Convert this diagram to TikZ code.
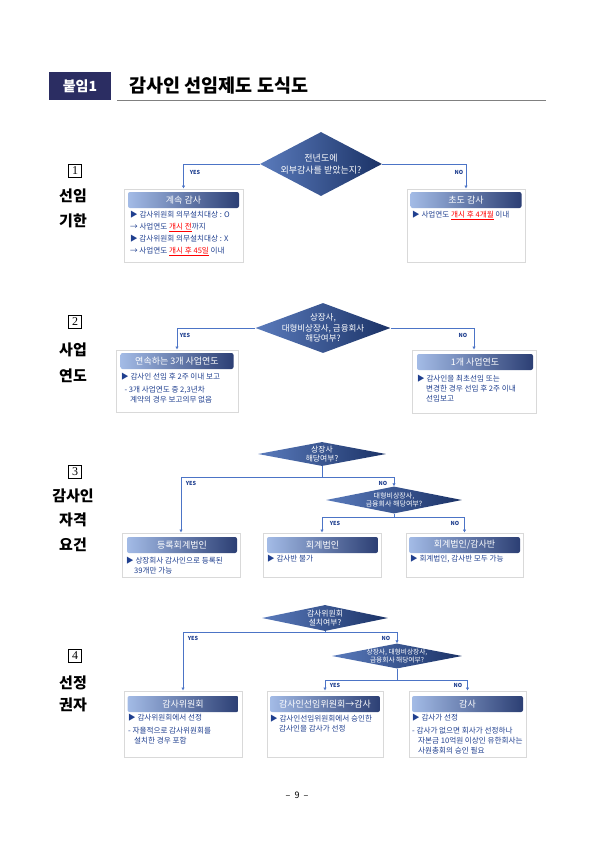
\documentclass[tikz,border=0pt]{standalone}
\usepackage{fontspec}
\setmainfont{Noto Sans CJK KR}
\newfontfamily\numfont{Liberation Serif}
\usepackage{tikz}
\usetikzlibrary{shapes.geometric}
\usetikzlibrary{arrows.meta}
\definecolor{navy}{HTML}{2B2D62}
\definecolor{flowline}{HTML}{4C74C6}
\definecolor{itemblue}{HTML}{1F3F8F}
\definecolor{hdlight}{HTML}{A3BBE6}
\definecolor{hddark}{HTML}{2C3F74}
\definecolor{dmdlight}{HTML}{5A7BBC}
\definecolor{dmddark}{HTML}{1B3266}
\newcommand{\rd}[1]{{\color{red}\underline{#1}}}

\begin{document}
\begin{tikzpicture}[x=1pt,y=-1pt,
	dmd/.style={diamond,inner sep=0pt,left color=dmdlight,right color=dmddark},
	dtxt/.style={inner sep=0pt,text=white,align=center},
	hdr/.style={rectangle,rounded corners=2pt,left color=hdlight,right color=hddark,text=white,minimum height=16pt,inner sep=0pt,font=\fontsize{9}{10}\selectfont},
	card/.style={draw=black!15,line width=1pt,fill=white},
	item/.style={anchor=north west,inner sep=0pt,text=itemblue,align=left},
	yn/.style={inner sep=0pt,text=itemblue,font=\fontsize{5.5}{6}\selectfont\bfseries},
	flow/.style={draw=flowline,line width=1pt,-{Latex[length=3pt,width=3.5pt]}},
	numbox/.style={draw,line width=0.5pt,minimum size=13pt,inner sep=0pt,font=\numfont\fontsize{12}{12}\selectfont},
	sect/.style={font=\fontsize{15}{15}\selectfont\bfseries}]
	\useasboundingbox (0,0) rectangle (595,841);
	\node[fill=navy,text=white,minimum width=62pt,minimum height=28pt,font=\fontsize{14}{14}\selectfont\bfseries] (tag) at (80,86) {붙임1};
	\node[anchor=west,font=\fontsize{18.5}{18.5}\selectfont\bfseries] (title) at (126,86) {감사인 선임제도 도식도};
	\draw[black!50,line width=1pt] (117,100) -- (546,100);

	\node[numbox] (n1) at (75,171) {1};
	\node[sect] (s1a) at (73,196) {선임};
	\node[sect] (s1b) at (73,221) {기한};
	\node[dmd,minimum width=122pt,minimum height=64pt] (d1) at (321,164) {};
	\node[dtxt,font=\fontsize{9}{11.5}\selectfont] (d1t) at (d1) {전년도에\\외부감사를 받았는지?};
	\node[card,minimum width=119pt,minimum height=73pt] (b1a) at (183.5,225.5) {};
	\node[hdr,minimum width=111pt] (h1a) at (183.5,200) {계속 감사};
	\node[item,font=\fontsize{7.6}{12}\selectfont] (t1a) at (130,211) {▶ 감사위원회 의무설치대상 : O\\ → 사업연도 \rd{개시 전}까지\\▶ 감사위원회 의무설치대상 : X\\ → 사업연도 \rd{개시 후 45일} 이내};
	\node[card,minimum width=118pt,minimum height=73pt] (b1b) at (466,225.5) {};
	\node[hdr,minimum width=111pt] (h1b) at (466,200) {초도 감사};
	\node[item,font=\fontsize{7.6}{12}\selectfont] (t1b) at (412,211) {▶ 사업연도 \rd{개시 후 4개월} 이내};
	\draw[flow] (d1.west) -| (b1a.north);
	\draw[flow] (d1.east) -| (b1b.north);
	\node[yn] (y1) at (195,172) {YES};
	\node[yn] (o1) at (459,172) {NO};

	\node[numbox] (n2) at (75,322) {2};
	\node[sect] (s2a) at (73,350) {사업};
	\node[sect] (s2b) at (73,376) {연도};
	\node[dmd,minimum width=135pt,minimum height=50pt] (d2) at (323,328) {};
	\node[dtxt,font=\fontsize{8.5}{10.5}\selectfont] (d2t) at (d2) {상장사,\\대형비상장사, 금융회사\\해당여부?};
	\node[card,minimum width=122pt,minimum height=62pt] (b2a) at (177,381) {};
	\node[hdr,minimum width=113pt] (h2a) at (177,361) {연속하는 3개 사업연도};
	\node[item,font=\fontsize{7.6}{10}\selectfont] (t2a) at (121,373) {▶ 감사인 선임 후 2주 이내 보고\\[3pt]\ \ - 3개 사업연도 중 2,3년차\\\hspace{9pt}계약의 경우 보고의무 없음};
	\node[card,minimum width=124pt,minimum height=63pt] (b2b) at (474,381.5) {};
	\node[hdr,minimum width=116pt] (h2b) at (475,362) {1개 사업연도};
	\node[item,font=\fontsize{7.6}{10}\selectfont] (t2b) at (417,375) {▶ 감사인을 최초선임 또는\\\hspace{9pt}변경한 경우 선임 후 2주 이내\\\hspace{9pt}선임보고};
	\draw[flow] (d2.west) -| (b2a.north);
	\draw[flow] (d2.east) -| (b2b.north);
	\node[yn] (y2) at (185,335) {YES};
	\node[yn] (o2) at (463,335) {NO};

	\node[numbox] (n3) at (75,472) {3};
	\node[sect] (s3a) at (73,496) {감사인};
	\node[sect] (s3b) at (73,520) {자격};
	\node[sect] (s3c) at (73,545) {요건};
	\node[dmd,minimum width=128pt,minimum height=24pt] (d3a) at (322,454) {};
	\node[dtxt,font=\fontsize{7.8}{9.5}\selectfont] (d3at) at (d3a) {상장사\\해당여부?};
	\node[dmd,minimum width=136pt,minimum height=27pt] (d3b) at (394,500) {};
	\node[dtxt,font=\fontsize{7}{8.5}\selectfont] (d3bt) at (d3b) {대형비상장사,\\금융회사 해당여부?};
	\coordinate (j3) at (322,477);
	\coordinate (k3) at (394,517);
	\node[card,minimum width=118pt,minimum height=44pt] (b3a) at (181,555) {};
	\node[hdr,minimum width=110pt] (h3a) at (182,545) {등록회계법인};
	\node[item,font=\fontsize{7.6}{10}\selectfont] (t3a) at (126,557) {▶ 상장회사 감사인으로 등록된\\\hspace{8pt}39개만 가능};
	\node[card,minimum width=118pt,minimum height=44pt] (b3b) at (322,555) {};
	\node[hdr,minimum width=111pt] (h3b) at (322.5,545) {회계법인};
	\node[item,font=\fontsize{7.6}{10}\selectfont] (t3b) at (267,555) {▶ 감사반 불가};
	\node[card,minimum width=117pt,minimum height=44pt] (b3c) at (464.5,555) {};
	\node[hdr,minimum width=111pt] (h3c) at (464.5,545) {회계법인/감사반};
	\node[item,font=\fontsize{7.6}{10}\selectfont] (t3c) at (410,555) {▶ 회계법인, 감사반 모두 가능};
	\draw[flowline,line width=1pt] (d3a.south) -- (j3);
	\draw[flow] (j3) -| (b3a.north);
	\draw[flow] (j3) -| (d3b.north);
	\draw[flowline,line width=1pt] (d3b.south) -- (k3);
	\draw[flow] (k3) -| (b3b.north);
	\draw[flow] (k3) -| (b3c.north);
	\node[yn] (y3a) at (191,483) {YES};
	\node[yn] (o3a) at (383,483) {NO};
	\node[yn] (y3b) at (335,523) {YES};
	\node[yn] (o3b) at (455,523) {NO};

	\node[numbox] (n4) at (75,656) {4};
	\node[sect] (s4a) at (73,683) {선정};
	\node[sect] (s4b) at (73,705) {권자};
	\node[dmd,minimum width=126pt,minimum height=26pt] (d4a) at (325,618) {};
	\node[dtxt,font=\fontsize{7.8}{9.5}\selectfont] (d4at) at (d4a) {감사위원회\\설치여부?};
	\node[dmd,minimum width=130pt,minimum height=25pt] (d4b) at (397,656) {};
	\node[dtxt,font=\fontsize{6.7}{8}\selectfont] (d4bt) at (d4b) {상장사, 대형비상장사,\\금융회사 해당여부?};
	\coordinate (j4) at (325,632);
	\coordinate (k4) at (397,680);
	\node[card,minimum width=118pt,minimum height=66pt] (b4a) at (183,724) {};
	\node[hdr,minimum width=111pt] (h4a) at (183,704) {감사위원회};
	\node[item,font=\fontsize{7.6}{10}\selectfont] (t4a) at (128,714) {▶ 감사위원회에서 선정\\[3pt]- 자율적으로 감사위원회를\\\hspace{6pt}설치한 경우 포함};
	\node[card,minimum width=116pt,minimum height=66pt] (b4b) at (325,724) {};
	\node[hdr,minimum width=110pt] (h4b) at (325,704) {감사인선임위원회→감사};
	\node[item,font=\fontsize{7.6}{10}\selectfont] (t4b) at (270,715) {▶ 감사인선임위원회에서 승인한\\\hspace{9pt}감사인을 감사가 선정};
	\node[card,minimum width=117pt,minimum height=66pt] (b4c) at (467.5,724) {};
	\node[hdr,minimum width=111pt] (h4c) at (467.5,704) {감사};
	\node[item,font=\fontsize{7.6}{10}\selectfont] (t4c) at (412,714) {▶ 감사가 선정\\[3pt]- 감사가 없으면 회사가 선정하나\\\hspace{6pt}자본금 10억원 이상인 유한회사는\\\hspace{6pt}사원총회의 승인 필요};
	\draw[flowline,line width=1pt] (d4a.south) -- (j4);
	\draw[flow] (j4) -| (b4a.north);
	\draw[flow] (j4) -| (d4b.north);
	\draw[flowline,line width=1pt] (d4b.south) -- (k4);
	\draw[flow] (k4) -| (b4b.north);
	\draw[flow] (k4) -| (b4c.north);
	\node[yn] (y4a) at (193,638) {YES};
	\node[yn] (o4a) at (386,638) {NO};
	\node[yn] (y4b) at (335,685) {YES};
	\node[yn] (o4b) at (458,685) {NO};

	\node[font=\fontsize{9}{9}\selectfont] (pg) at (297,795) {–\ \ 9\ \ –};
\end{tikzpicture}
\end{document}
